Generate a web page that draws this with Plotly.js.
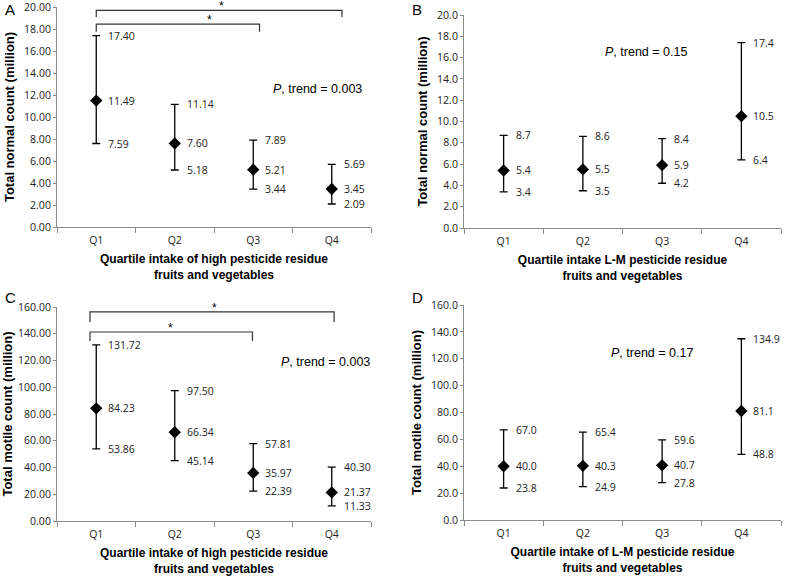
<!DOCTYPE html>
<html>
<head>
<meta charset="utf-8">
<script src="https://cdn.plot.ly/plotly-3.0.1.min.js"></script>
<style>html,body{margin:0;padding:0;background:#fff;}#chart{width:800px;height:578px;}</style>
</head>
<body>
<div id="chart"></div>
<script>
// ---- data ----
const quartiles = ['Q1', 'Q2', 'Q3', 'Q4'];

const normalHighMean = [11.49, 7.60, 5.21, 3.45];
const normalHighLow  = [7.59, 5.18, 3.44, 2.09];
const normalHighUp   = [17.40, 11.14, 7.89, 5.69];

const normalLMMean = [5.4, 5.5, 5.9, 10.5];
const normalLMLow  = [3.4, 3.5, 4.2, 6.4];
const normalLMUp   = [8.7, 8.6, 8.4, 17.4];

const motileHighMean = [84.23, 66.34, 35.97, 21.37];
const motileHighLow  = [53.86, 45.14, 22.39, 11.33];
const motileHighUp   = [131.72, 97.50, 57.81, 40.30];

const motileLMMean = [40.0, 40.3, 40.7, 81.1];
const motileLMLow  = [23.8, 24.9, 27.8, 48.8];
const motileLMUp   = [67.0, 65.4, 59.6, 134.9];

const pTrend = ['0.003', '0.15', '0.003', '0.17'];
const panelLetters = ['A', 'B', 'C', 'D'];

// ---- layout helpers ----
const W = 800, H = 578;
function dx(a, b) { return [a / W, b / W]; }
function dy(top, bottom) { return [1 - bottom / H, 1 - top / H]; }

const panels = [
  {mean: normalHighMean, lo: normalHighLow, up: normalHighUp, dec: 2, max: 20, dt: 2,
   xd: dx(57, 371), yd: dy(7, 227),
   xt: 'Quartile intake of high pesticide residue<br>fruits and vegetables',
   yt: 'Total normal count (million)', p: [2.82, 12.5]},
  {mean: normalLMMean, lo: normalLMLow, up: normalLMUp, dec: 1, max: 20, dt: 2,
   xd: dx(464, 781), yd: dy(15, 228),
   xt: 'Quartile intake L-M pesticide residue<br>fruits and vegetables',
   yt: 'Total normal count (million)', p: [1.8, 16.5]},
  {mean: motileHighMean, lo: motileHighLow, up: motileHighUp, dec: 2, max: 160, dt: 20,
   xd: dx(57, 371), yd: dy(307, 521),
   xt: 'Quartile intake of high pesticide residue<br>fruits and vegetables',
   yt: 'Total motile count (million)', p: [2.92, 119]},
  {mean: motileLMMean, lo: motileLMLow, up: motileLMUp, dec: 1, max: 160, dt: 20,
   xd: dx(464, 781), yd: dy(305, 520),
   xt: 'Quartile intake of L-M pesticide residue<br>fruits and vegetables',
   yt: 'Total motile count (million)', p: [1.87, 124.5]}
];

const letterPos = [[3, 9], [410, 9], [3, 297], [410, 297]];

const data = [];
const annotations = [];
const shapes = [];
const layout = {
  width: W, height: H,
  margin: {l: 0, r: 0, t: 0, b: 0},
  paper_bgcolor: '#fff', plot_bgcolor: '#fff',
  showlegend: false,
  font: {family: 'Liberation Sans, Arial, sans-serif', color: '#000'}
};

const tickFont = {family: 'Open Sans, sans-serif', size: 10.5, color: '#222'};
const valFont = {family: 'Open Sans, sans-serif', size: 10.5, color: '#222'};

panels.forEach((pn, i) => {
  const n = i + 1;
  const xa = n === 1 ? 'x' : 'x' + n;
  const ya = n === 1 ? 'y' : 'y' + n;
  data.push({
    type: 'scatter', mode: 'markers', xaxis: xa, yaxis: ya,
    x: quartiles, y: pn.mean,
    marker: {symbol: 'diamond', size: 9.5, color: '#000'},
    error_y: {
      type: 'data', symmetric: false,
      array: pn.up.map((u, k) => u - pn.mean[k]),
      arrayminus: pn.mean.map((m, k) => m - pn.lo[k]),
      color: '#000', thickness: 1.3, width: 4
    },
    cliponaxis: false,
    hoverinfo: 'x+y'
  });
  const xk = n === 1 ? 'xaxis' : 'xaxis' + n;
  const yk = n === 1 ? 'yaxis' : 'yaxis' + n;
  layout[xk] = {
    domain: pn.xd, anchor: ya, type: 'category',
    range: [-0.5, 3.5], fixedrange: true,
    showline: true, linecolor: '#8a8a8a', linewidth: 1,
    ticks: 'outside', tickson: 'boundaries', ticklen: 5, tickcolor: '#8a8a8a',
    showgrid: false, zeroline: false,
    tickfont: tickFont, ticklabelstandoff: 3,
    title: {text: pn.xt, font: {family: 'Liberation Sans, Arial, sans-serif', size: 12, color: '#000', weight: 'bold'}, standoff: 9}
  };
  layout[yk] = {
    domain: pn.yd, anchor: xa,
    range: [0, pn.max], dtick: pn.dt, tick0: 0, fixedrange: true,
    tickformat: pn.dec === 2 ? '.2f' : '.1f',
    showline: true, linecolor: '#8a8a8a', linewidth: 1,
    ticks: 'outside', ticklen: 3, tickcolor: '#8a8a8a',
    showgrid: false, zeroline: false,
    tickfont: tickFont, ticklabeloverflow: 'allow',
    title: {text: pn.yt, font: {family: 'Liberation Sans, Arial, sans-serif', size: 13, color: '#000', weight: 'bold'}, standoff: 6}
  };
  // value labels
  [pn.up, pn.mean, pn.lo].forEach(arr => {
    arr.forEach((v, k) => {
      annotations.push({
        xref: xa, yref: ya, x: quartiles[k], y: v,
        text: v.toFixed(pn.dec), showarrow: false,
        xanchor: 'left', yanchor: 'middle', xshift: 10,
        font: valFont
      });
    });
  });
  // P trend
  annotations.push({
    xref: xa, yref: ya, x: pn.p[0], y: pn.p[1],
    text: '<i>P</i>, trend = ' + pTrend[i], showarrow: false,
    xanchor: 'center', yanchor: 'middle',
    font: {family: 'Liberation Sans, Arial, sans-serif', size: 12.5, color: '#000'}
  });
  // panel letter
  annotations.push({
    xref: 'paper', yref: 'paper', x: letterPos[i][0] / W, y: 1 - letterPos[i][1] / H,
    text: panelLetters[i], showarrow: false, xanchor: 'left', yanchor: 'middle',
    font: {family: 'Liberation Sans, Arial, sans-serif', size: 15, color: '#000'}
  });
});

// significance brackets (panels A and C); star sits just above the bracket line
function bracket(xa, ya, x0, x1, top, drop, starX) {
  shapes.push({
    type: 'path', xref: xa, yref: ya,
    path: `M ${x0},${top - drop} L ${x0},${top} L ${x1},${top} L ${x1},${top - drop}`,
    line: {color: '#333', width: 1.2}
  });
  annotations.push({
    xref: xa, yref: ya, x: starX, y: top, text: '*', showarrow: false,
    xanchor: 'center', yanchor: 'bottom', yshift: -5,
    font: {family: 'Liberation Sans, Arial, sans-serif', size: 12, color: '#000'}
  });
}
bracket('x', 'y', 0, 3.13, 19.7, 0.6, 1.59);
bracket('x', 'y', 0, 2.08, 18.45, 0.7, 1.44);
bracket('x3', 'y3', -0.08, 3.03, 156.3, 7.5, 1.5);
bracket('x3', 'y3', -0.08, 1.99, 141.3, 6.7, 0.94);

layout.annotations = annotations;
layout.shapes = shapes;

Plotly.newPlot('chart', data, layout, {displayModeBar: false, staticPlot: true});
</script>
</body>
</html>
